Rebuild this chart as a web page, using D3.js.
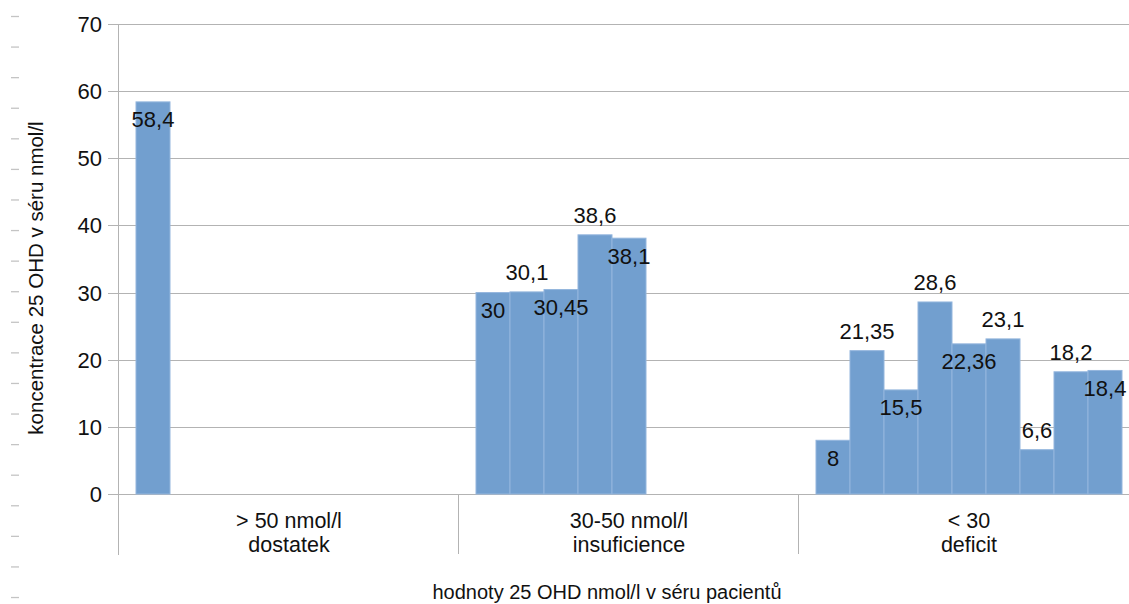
<!DOCTYPE html>
<html>
<head>
<meta charset="utf-8">
<script src="https://cdn.jsdelivr.net/npm/d3@7"></script>
<style>
  html, body { margin: 0; padding: 0; background: #fff; }
  svg { display: block; font-family: "Liberation Sans", Arial, sans-serif; }
</style>
</head>
<body>
<svg id="chart" width="1129" height="604"></svg>
<script>
// Category groups (two-line labels)
const categories = ["> 50 nmol/l|dostatek", "30-50 nmol/l|insuficience", "< 30|deficit"];

// Patient values per group (nmol/l)
const valuesDostatek = [58.4];
const valuesInsuficience = [30, 30.1, 30.45, 38.6, 38.1];
const valuesDeficit = [8, 21.35, 15.5, 28.6, 22.36, 23.1, 6.6, 18.2, 18.4];

// Number of series slots in each group
const seriesCount = 9;

// Y axis ticks
const yTicks = [0, 10, 20, 30, 40, 50, 60, 70];

// Data label placement per group: "a" = above the bar, "b" = inside below the top
const placeDostatek = ["b"];
const placeInsuficience = ["b", "a", "b", "a", "b"];
const placeDeficit = ["b", "a", "b", "a", "b", "a", "a", "a", "b"];

const groups = [
  { cat: categories[0], values: valuesDostatek, place: placeDostatek },
  { cat: categories[1], values: valuesInsuficience, place: placeInsuficience },
  { cat: categories[2], values: valuesDeficit, place: placeDeficit }
];

const W = 1129, H = 604;
const plot = { left: 119, right: 1139, top: 24, bottom: 494 };
const gridColor = "#b3b3b3";
const barColor = "#729fcf";
const textColor = "#111";

const svg = d3.select("#chart");

const x0 = d3.scaleBand()
  .domain(categories)
  .range([plot.left, plot.right])
  .paddingInner(0).paddingOuter(0);

const x1 = d3.scaleBand()
  .domain(d3.range(seriesCount))
  .range([0, x0.bandwidth()])
  .paddingInner(0).paddingOuter(0.5);

const y = d3.scaleLinear().domain([0, 70]).range([plot.bottom, plot.top]);

// Legend markers along the left edge
svg.append("g").selectAll("line")
  .data(d3.range(20))
  .join("line")
  .attr("x1", 11).attr("x2", 19)
  .attr("y1", i => 16.5 + i * 30.58).attr("y2", i => 16.5 + i * 30.58)
  .attr("stroke", "#c4c4c4").attr("stroke-width", 1.3);

// Horizontal grid lines with tick stubs
const grid = svg.append("g");
grid.selectAll("line")
  .data(yTicks)
  .join("line")
  .attr("x1", plot.left - 11).attr("x2", W)
  .attr("y1", d => Math.round(y(d)) + 0.5).attr("y2", d => Math.round(y(d)) + 0.5)
  .attr("stroke", gridColor).attr("stroke-width", 1);

// Y tick labels
grid.selectAll("text")
  .data(yTicks)
  .join("text")
  .attr("x", 102)
  .attr("y", d => y(d) + 8)
  .attr("text-anchor", "end")
  .attr("font-size", 22)
  .attr("fill", textColor)
  .text(d => d);

// Vertical axis line
svg.append("line")
  .attr("x1", plot.left - 0.5).attr("x2", plot.left - 0.5)
  .attr("y1", plot.top).attr("y2", plot.bottom + 61)
  .attr("stroke", gridColor).attr("stroke-width", 1);

// Category separators below the baseline
const bounds = categories.map(c => x0(c)).concat([plot.right]);
svg.append("g").selectAll("line")
  .data(bounds.slice(1))
  .join("line")
  .attr("x1", d => Math.round(d) - 0.5).attr("x2", d => Math.round(d) - 0.5)
  .attr("y1", plot.bottom).attr("y2", plot.bottom + 60)
  .attr("stroke", gridColor).attr("stroke-width", 1);

// Bars
const gBars = svg.append("g");
groups.forEach(g => {
  const gx = x0(g.cat);
  gBars.selectAll(null)
    .data(g.values)
    .join("rect")
    .attr("x", (d, i) => gx + x1(i))
    .attr("y", d => y(d))
    .attr("width", x1.bandwidth())
    .attr("height", d => y(0) - y(d))
    .attr("fill", barColor)
    .attr("stroke", "#94b6dd")
    .attr("stroke-width", 1);
});

// Data labels
const gLabels = svg.append("g");
const fmt = v => String(v).replace(".", ",");
groups.forEach(g => {
  const gx = x0(g.cat);
  gLabels.selectAll(null)
    .data(g.values)
    .join("text")
    .attr("x", (d, i) => gx + x1(i) + x1.bandwidth() / 2)
    .attr("y", (d, i) => g.place[i] === "a" ? y(d) - 12 : y(d) + 25.5)
    .attr("text-anchor", "middle")
    .attr("font-size", 22)
    .attr("fill", textColor)
    .text(d => fmt(d));
});

// Category labels
const gCat = svg.append("g");
categories.forEach(c => {
  const lines = c.split("|");
  const t = gCat.append("text")
    .attr("x", x0(c) + x0.bandwidth() / 2)
    .attr("y", 528)
    .attr("text-anchor", "middle")
    .attr("font-size", 21.5)
    .attr("fill", textColor);
  lines.forEach((ln, k) => {
    t.append("tspan")
      .attr("x", x0(c) + x0.bandwidth() / 2)
      .attr("dy", k === 0 ? 0 : 24)
      .text(ln);
  });
});

// Axis titles
svg.append("text")
  .attr("x", 607).attr("y", 599)
  .attr("text-anchor", "middle")
  .attr("font-size", 20)
  .attr("fill", textColor)
  .text("hodnoty 25 OHD nmol/l v séru pacientů");

svg.append("text")
  .attr("transform", "translate(43,278) rotate(-90)")
  .attr("text-anchor", "middle")
  .attr("font-size", 20.5)
  .attr("fill", textColor)
  .text("koncentrace 25 OHD v séru nmol/l");
</script>
</body>
</html>
